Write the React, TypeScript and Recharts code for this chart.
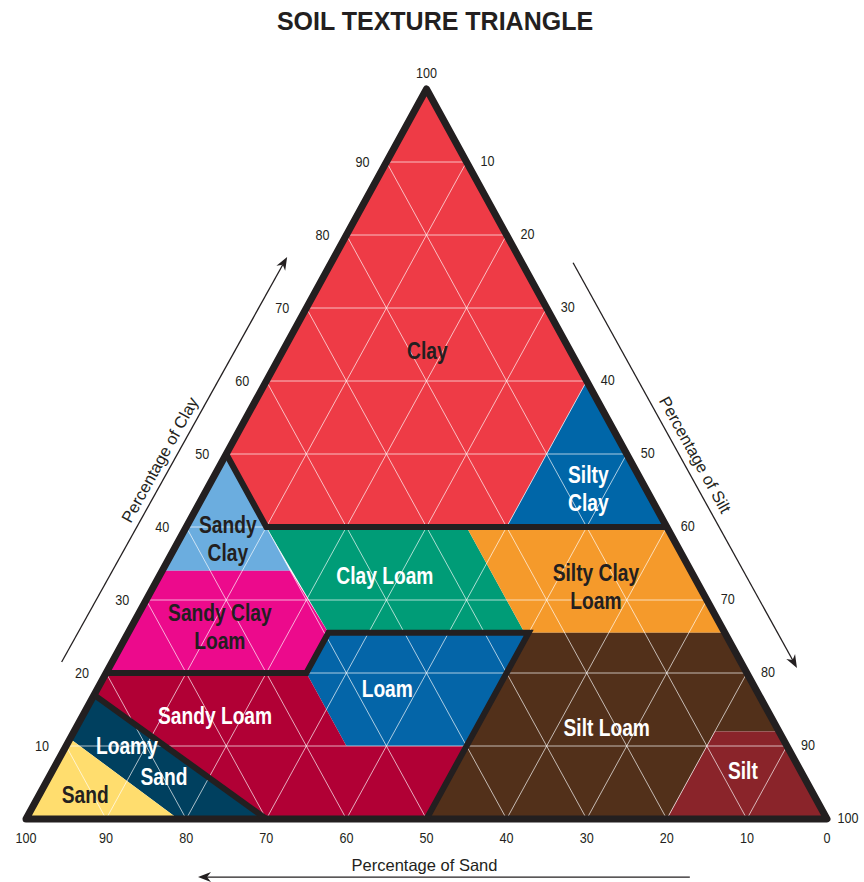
import React from "react";
import { ReferenceDot, ReferenceLine, Scatter, ScatterChart, XAxis, YAxis } from "recharts";

// every point is [sand %, clay %]; silt is what is left over
type Pt = [number, number];

const clay: Pt[] = [[0, 100], [50, 50], [50, 40], [20, 40], [0, 60]];
const siltyClay: Pt[] = [[20, 40], [0, 60], [0, 40]];
const sandyClay: Pt[] = [[50, 50], [66, 34], [50, 34]];
const clayLoam: Pt[] = [[50, 40], [25, 40], [25, 25.5], [49.5, 25.5]];
const siltyClayLoam: Pt[] = [[25, 40], [0, 40], [0, 25.5], [25, 25.5]];
const sandyClayLoam: Pt[] = [[66, 34], [50, 34], [49.5, 25.5], [55, 20], [80, 20]];
const loam: Pt[] = [[49.5, 25.5], [24.5, 25.5], [40, 10], [55, 10], [55, 20]];
const sandyLoam: Pt[] = [[80, 20], [55, 20], [55, 10], [40, 10], [50, 0], [70, 0], [83, 17]];
const loamySand: Pt[] = [[83, 17], [70, 0], [81, 0], [89, 11]];
const sand: Pt[] = [[89, 11], [81, 0], [100, 0]];
const siltLoam: Pt[] = [[24.5, 25.5], [0, 25.5], [0, 12], [8, 12], [20, 0], [50, 0]];
const silt: Pt[] = [[8, 12], [0, 12], [0, 0], [20, 0]];

// thick black class boundaries
const outline: Pt[] = [[100, 0], [0, 100], [0, 0], [100, 0]];
const boundaryA: Pt[] = [[50, 50], [50, 40], [0, 40]];
const boundaryB: Pt[] = [[80, 20], [55, 20], [49.5, 25.5], [24.5, 25.5], [50, 0]];
const boundaryC: Pt[] = [[83, 17], [70, 0]];

const gridSteps = [10, 20, 30, 40, 50, 60, 70, 80, 90];
const sandTicks = [100, 90, 80, 70, 60, 50, 40, 30, 20, 10, 0];
const clayTicks = [10, 20, 30, 40, 50, 60, 70, 80, 90, 100];
const siltTicks = [10, 20, 30, 40, 50, 60, 70, 80, 90, 100];

const labelRegion = [
  "Clay", "Silty Clay", "Sandy Clay", "Clay Loam", "Silty Clay Loam", "Sandy Clay Loam",
  "Loam", "Sandy Loam", "Loamy Sand", "Loamy Sand", "Sand", "Silt Loam", "Silt",
];
const labelText: string[][] = [
  ["Clay"], ["Silty", "Clay"], ["Sandy", "Clay"], ["Clay Loam"], ["Silty Clay", "Loam"], ["Sandy Clay", "Loam"],
  ["Loam"], ["Sandy Loam"], ["Loamy"], ["Sand"], ["Sand"], ["Silt Loam"], ["Silt"],
];
const labelAt: Pt[] = [
  [17.8, 64.2], [7.2, 45.2], [55.6, 38.4], [38.5, 33.4], [12.9, 31.9], [62.6, 26.4],
  [46, 17.8], [69.3, 14.2], [82.4, 10], [79.9, 5.75], [90.9, 3.4], [21.25, 12.5], [7.2, 6.6],
];

// arrows and axis titles sit outside the triangle
const clayArrow: Pt[] = [[84.8, 21.5], [28.9, 77]];
const siltArrow: Pt[] = [[-6.4, 76.2], [-6.6, 20.7]];
const sandArrow: Pt[] = [[21.1, -7.95], [82.5, -7.95]];
const axisTitles = ["Percentage of Clay", "Percentage of Silt", "Percentage of Sand"];
const axisTitleAt: Pt[] = [[58.7, 49.2], [-8.5, 49.9], [53.4, -6.3]];

const regions = [
  { name: "Clay", pts: clay, color: "#EE3B46" },
  { name: "Silty Clay", pts: siltyClay, color: "#0066A8" },
  { name: "Sandy Clay", pts: sandyClay, color: "#6BADDF" },
  { name: "Clay Loam", pts: clayLoam, color: "#009C77" },
  { name: "Silty Clay Loam", pts: siltyClayLoam, color: "#F59A2B" },
  { name: "Sandy Clay Loam", pts: sandyClayLoam, color: "#EC0A8C" },
  { name: "Loam", pts: loam, color: "#0465A8" },
  { name: "Sandy Loam", pts: sandyLoam, color: "#B10035" },
  { name: "Loamy Sand", pts: loamySand, color: "#00405F" },
  { name: "Sand", pts: sand, color: "#FFDD6E" },
  { name: "Silt Loam", pts: siltLoam, color: "#52301A" },
  { name: "Silt", pts: silt, color: "#8A242A" },
];
const darkInk = new Set(["Clay", "Sandy Clay", "Sandy Clay Loam", "Silty Clay Loam", "Sand"]);

const INK = "#231F20";
const SANS = "'Liberation Sans', Arial, sans-serif";

const toXY = ([s, c]: Pt) => ({ x: 100 - s - c / 2, y: c });

function pathOf(points: { x: number; y: number }[], close: boolean) {
  const d = points.map((p, i) => `${i ? "L" : "M"}${p.x},${p.y}`).join(" ");
  return close ? d + " Z" : d;
}

function polygon(fill: string) {
  return (props: any) => <path d={pathOf(props.points ?? [], true)} fill={fill} stroke="none" />;
}

function polyline(width: number, close = false) {
  return (props: any) => (
    <path
      d={pathOf(props.points ?? [], close)}
      fill="none"
      stroke={INK}
      strokeWidth={width}
      strokeLinejoin={close ? "round" : "miter"}
    />
  );
}

// grid endpoints come in pairs
function gridSegments(props: any) {
  const pts = props.points ?? [];
  let d = "";
  for (let i = 0; i + 1 < pts.length; i += 2) d += `M${pts[i].x},${pts[i].y} L${pts[i + 1].x},${pts[i + 1].y} `;
  return <path d={d} fill="none" stroke="#FFFFFF" strokeOpacity={0.75} strokeWidth={0.9} />;
}

const noDot = () => <g />;

// condensed bold look: squeeze Liberation Sans Bold horizontally
function RegionLabel(props: any) {
  const { cx, cy, payload } = props;
  const lines: string[] = payload.lines;
  const lh = 28;
  const top = cy - ((lines.length - 1) * lh) / 2;
  return (
    <text
      transform={`translate(${cx} ${top}) scale(0.8 1)`}
      textAnchor="middle"
      fill={payload.ink}
      fontSize={24}
      fontWeight={700}
      fontFamily={SANS}
    >
      {lines.map((l, i) => (
        <tspan key={i} x={0} y={i * lh} dy="0.35em">
          {l}
        </tspan>
      ))}
    </text>
  );
}

function TickLabel(props: any) {
  const { cx, cy, payload } = props;
  let dx = 0;
  let dy = 0;
  if (payload.axis === "sand") dy = 19;
  if (payload.axis === "clay") {
    if (payload.value === 100) dy = -16;
    else dx = -24;
  }
  if (payload.axis === "silt") {
    dx = 21;
    dy = -1;
  }
  return (
    <text
      transform={`translate(${cx + dx} ${cy + dy}) scale(0.9 1)`}
      dy="0.35em"
      textAnchor="middle"
      fontSize={14}
      fontFamily={SANS}
      fill={INK}
    >
      {payload.value}
    </text>
  );
}

function Arrow(props: any) {
  const { x1, y1, x2, y2 } = props;
  const a = Math.atan2(y2 - y1, x2 - x1);
  const c = Math.cos(a);
  const s = Math.sin(a);
  const len = 13;
  const w = 5;
  const bx = x2 - len * c;
  const by = y2 - len * s;
  const nx = x2 - 9 * c;
  const ny = y2 - 9 * s;
  const head = `${x2},${y2} ${bx + w * s},${by - w * c} ${nx},${ny} ${bx - w * s},${by + w * c}`;
  return (
    <g>
      <line x1={x1} y1={y1} x2={nx} y2={ny} stroke={INK} strokeWidth={1.3} />
      <polygon points={head} fill={INK} />
    </g>
  );
}

function titleShape(text: string, angle: number) {
  return (props: any) => (
    <text
      x={props.cx}
      y={props.cy}
      dy="0.35em"
      textAnchor="middle"
      fontSize={16.5}
      fontFamily={SANS}
      fill={INK}
      transform={`rotate(${angle} ${props.cx} ${props.cy})`}
    >
      {text}
    </text>
  );
}

export default function App() {
  const gridData: { x: number; y: number }[] = [];
  gridSteps.forEach((g) => {
    gridData.push(toXY([100 - g, g]), toXY([0, g]));
    gridData.push(toXY([g, 0]), toXY([g, 100 - g]));
    gridData.push(toXY([100 - g, 0]), toXY([0, 100 - g]));
  });

  const labelData = labelAt.map((p, i) => ({
    ...toXY(p),
    lines: labelText[i],
    ink: darkInk.has(labelRegion[i]) ? INK : "#FFFFFF",
  }));

  const tickData = [
    ...sandTicks.map((v) => ({ ...toXY([v, 0]), value: v, axis: "sand" })),
    ...clayTicks.map((v) => ({ ...toXY([100 - v, v]), value: v, axis: "clay" })),
    ...siltTicks.map((v) => ({ ...toXY([0, 100 - v]), value: v, axis: "silt" })),
  ];

  const arrows = [clayArrow, siltArrow, sandArrow];
  const titleAngles = [-61, 61, 0];

  return (
    <div style={{ position: "absolute", left: 0, top: 0, width: 864, height: 882, background: "#fff" }}>
      <div
        style={{
          position: "absolute",
          left: 0,
          top: 6,
          width: 870,
          textAlign: "center",
          fontFamily: SANS,
          fontWeight: 700,
          fontSize: 25,
          lineHeight: "30px",
          color: INK,
        }}
      >
        SOIL TEXTURE TRIANGLE
      </div>
      <div style={{ position: "absolute", left: 0, top: 0 }}>
        <ScatterChart width={864} height={882} margin={{ top: 89, right: 37, bottom: 63, left: 26 }}>
          <XAxis type="number" dataKey="x" domain={[0, 100]} hide />
          <YAxis type="number" dataKey="y" domain={[0, 100]} hide />
          {regions.map((r) => (
            <Scatter
              key={r.name}
              name={r.name}
              data={r.pts.map(toXY)}
              line={polygon(r.color)}
              shape={noDot}
              isAnimationActive={false}
            />
          ))}
          <Scatter name="grid" data={gridData} line={gridSegments} shape={noDot} isAnimationActive={false} />
          <Scatter name="outline" data={outline.map(toXY)} line={polyline(7, true)} shape={noDot} isAnimationActive={false} />
          {[boundaryA, boundaryB, boundaryC].map((b, i) => (
            <Scatter
              key={`b${i}`}
              name={`b${i}`}
              data={b.map(toXY)}
              line={polyline(6)}
              shape={noDot}
              isAnimationActive={false}
            />
          ))}
          <Scatter name="labels" data={labelData} shape={RegionLabel} isAnimationActive={false} />
          <Scatter name="ticks" data={tickData} shape={TickLabel} isAnimationActive={false} />
          {arrows.map((a, i) => (
            <ReferenceLine key={`a${i}`} segment={a.map(toXY)} ifOverflow="visible" shape={Arrow} />
          ))}
          {axisTitleAt.map((p, i) => {
            const q = toXY(p);
            return (
              <ReferenceDot
                key={`t${i}`}
                x={q.x}
                y={q.y}
                ifOverflow="visible"
                shape={titleShape(axisTitles[i], titleAngles[i])}
              />
            );
          })}
        </ScatterChart>
      </div>
    </div>
  );
}
